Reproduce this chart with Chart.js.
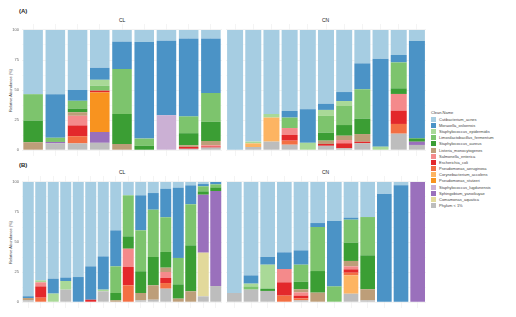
<!DOCTYPE html>
<html><head><meta charset="utf-8">
<script src="https://cdn.jsdelivr.net/npm/chart.js"></script>
<style>
body{margin:0;width:516px;height:317px;background:#fff;position:relative;overflow:hidden;font-family:"Liberation Sans",Arial,sans-serif}
.box{position:absolute}
.lbl{position:absolute;color:#222;white-space:nowrap}
.ytitle{position:absolute;transform:rotate(-90deg);transform-origin:center;font-size:4px;color:#444;white-space:nowrap;width:80px;text-align:center}
#legend{position:absolute;left:431px;top:110px;font-size:4px;color:#444}
#legend .row{display:flex;align-items:center;height:6.2px}
#legend .sw{width:5px;height:5px;margin-right:3px}
</style></head><body>
<div class="lbl" style="left:19px;top:8px;font-size:6px;font-weight:bold">(A)</div>
<div class="lbl" style="left:119px;top:17px;font-size:5px">CL</div>
<div class="lbl" style="left:322px;top:17px;font-size:5px">CN</div>
<div class="lbl" style="left:19px;top:162px;font-size:6px;font-weight:bold">(B)</div>
<div class="lbl" style="left:119px;top:169px;font-size:5px">CL</div>
<div class="lbl" style="left:322px;top:169px;font-size:5px">CN</div>
<div class="ytitle" style="left:-30px;top:88px">Relative Abundance (%)</div>
<div class="ytitle" style="left:-30px;top:240px">Relative Abundance (%)</div>
<div class="box" style="left:0;top:24px"><canvas id="aCL" width="222" height="132"></canvas></div>
<div class="box" style="left:226px;top:24px"><canvas id="aCN" width="200" height="132"></canvas></div>
<div class="box" style="left:0;top:176px"><canvas id="bCL" width="222" height="132"></canvas></div>
<div class="box" style="left:226px;top:176px"><canvas id="bCN" width="200" height="132"></canvas></div>
<div id="legend"></div>
<script>
// species in legend order (top of the stack first)
const species=['Cutibacterium_acnes','Moraxella_osloensis','Staphylococcus_epidermidis','Limosilactobacillus_fermentum','Staphylococcus_aureus','Listeria_monocytogenes','Salmonella_enterica','Escherichia_coli','Pseudomonas_aeruginosa','Corynebacterium_accolens','Pseudomonas_stutzeri','Staphylococcus_lugdunensis','Sphingobium_yanoikuyae','Comamonas_aquatica','Phylum < 1%'];
const colors=['#a6cde2','#4b93c6','#a9d997','#7dc46d','#3b9e34','#bd9e79','#f48a8b','#e3282b','#f36f43','#fdb462','#f8931f','#cbb0d4','#9a70bc','#e2d99b','#bdbdbd'];
const yTicks=[0,25,50,75,100];

// rows = species (same order), columns = samples
const aCL=[
[53.5,53.5,50,31.5,9.7,10,9,7,7],
[0,36.3,9,10,22.8,80.5,62,65,45.5],
[0,0,0,5,0,0,0,0,0],
[22,3.5,6.5,4,37.5,6,0,14,24],
[18,0,3,0,25,3.5,0,10,16],
[6.5,0,3,0,5,0,0,1.5,3.5],
[0,0,8,0,0,0,0,0,1],
[0,0,9,1.5,0,0,0,1.5,1],
[0,0,6,0,0,0,0,0,0],
[0,0,0,0,0,0,0,0,0],
[0,0,0,33,0,0,0,0,0],
[0,0,0,0,0,0,29,0,0],
[0,1.2,0,9,0,0,0,0,0],
[0,0,0,0,0,0,0,0,0],
[0,5.5,5.5,6,0,0,0,1,2]];
const aCN=[
[100,93,70,67.5,66,61.6,51.7,27.8,23.9,20.8,9.2],
[0,0,0,5.5,28,5,7.5,21.6,73.3,6.2,81.1],
[0,1.5,3,0,6,5,4.1,0,2.8,0,0],
[0,0,0,8.7,0,14,15.9,24.5,0,21.6,0],
[0,0,0,0,0,6.6,8.9,12.8,0,4.7,2.8],
[0,0,0,0,0,2.8,3.6,6.4,0,0,0],
[0,0,0,5.8,0,0,2.7,0,0,13.9,0],
[0,0,0,4.7,0,1.5,4.2,1.3,0,11.1,0],
[0,0,0,3.4,0,0,0,0,0,8.1,0],
[0,3,20,0,0,0,0,0,0,0,0],
[0,0,0,0,0,0,0,0,0,0,0],
[0,0,0,0,0,0,0,0,0,0,0],
[0,0,0,0,0,0,0,0,0,0,2.7],
[0,0,0,0,0,0,0,0,0,0,0],
[0,2.5,7,4.4,0,3.5,1.4,5.6,0,13.6,4.2]];
const bCL=[
[95.2,82,80.5,79.7,79.2,70.3,62,40.3,11.1,11.1,9.2,5.6,4.7,2.8,1.7,0],
[1.5,0,12.5,2.8,20.8,27.8,27.7,30,0,29.2,13.9,23.8,58.6,15.8,1.9,2],
[0,1.6,7,7.2,0,0,1.4,0,0,0,0,0,0,0,0,0],
[0,0,0,0,0,0,0,22.2,34.2,34.1,39.4,28.9,22,34.2,4.2,2.5],
[0,0,0,0,0,0,0,6.1,10.3,18.1,23.6,13.1,11.9,38.3,2.8,3],
[1.8,0,0,0,0,0,0,1.4,0,6.1,12,3.6,2.8,8.9,0,0],
[0,3.4,0,0,0,0,0,0,15.2,0,0,5,0,0,0,0],
[0,9.4,0,0,0,1.9,0,0,15.3,0,0,4.2,0,0,0,0],
[0,3.6,0,0,0,0,0,0,13.9,0,0,4.7,0,0,0,0],
[0,0,0,0,0,0,0,0,0,0,0,0,0,0,0,0],
[0,0,0,0,0,0,0,0,0,0,0,0,0,0,0,0],
[0,0,0,0,0,0,0,0,0,0,0,0,0,0,0,0],
[0,0,0,0,0,0,0,0,0,0,0,0,0,0,48.3,79.2],
[0,0,0,0,0,0,0,0,0,0,0,0,0,0,36.4,0],
[1.5,0,0,10.3,0,0,8.9,0,0,1.4,1.9,11.1,0,0,4.7,13.3]];
const bCN=[
[92.5,77.8,62.5,58.6,57,34.2,32.5,29.7,29.2,9.7,2.8,0],
[0,6.9,6.4,13.9,11.9,3.3,54.5,1.7,0,90.3,97.2,0],
[0,2.3,20,0,0,0,0,0,0,0,0,0],
[0,2.7,0,0,14.2,36.7,13,19.2,31.9,0,0,0],
[0,0,1.9,0,6.3,18,0,15.2,28.3,0,0,0],
[0,0,0,0,2.6,7.8,0,4.5,9.2,0,0,0],
[0,0,0,11.1,2.7,0,0,2.5,0,0,0,0],
[0,0,0,11.1,2.3,0,0,2.8,0,0,0,0],
[0,0,0,5.3,1.6,0,0,2.2,0,0,0,0],
[0,0,0,0,0,0,0,15.3,0,0,0,0],
[0,0,0,0,0,0,0,0,0,0,0,0],
[0,0,0,0,0,0,0,0,0,0,0,0],
[0,0,0,0,0,0,0,0,0,0,0,100],
[0,0,0,0,0,0,0,0,0,0,0,0],
[7.5,10.3,9.2,0,1.4,0,0,6.9,1.4,0,0,0]];

// y tick labels drawn from the scale, outside the plot area
const yLabels={id:'yLabels',afterDraw(c,a,o){
 if(!o.show)return;
 let y=c.scales.y,ctx=c.ctx;
 ctx.save();ctx.fillStyle='#666';ctx.font='4px "Liberation Sans"';ctx.textAlign='right';ctx.textBaseline='middle';
 yTicks.forEach(v=>ctx.fillText(v,c.chartArea.left-3,y.getPixelForValue(v)));
 ctx.restore();
}};

function draw(id,rows,showY){
 let n=rows[0].length,labels=[];
 for(let i=1;i<=n;i++)labels.push('S'+i);
 let ds=[];
 // first dataset sits at the bottom, so go from the last species up
 for(let s=species.length-1;s>=0;s--)
  ds.push({label:species[s],data:rows[s],backgroundColor:colors[s],borderWidth:0,barPercentage:0.88,categoryPercentage:1});
 new Chart(document.getElementById(id),{type:'bar',data:{labels:labels,datasets:ds},plugins:[yLabels],
 options:{responsive:false,animation:false,layout:{padding:{left:showY?22:0}},
  plugins:{legend:{display:false},tooltip:{enabled:false},yLabels:{show:showY}},
  scales:{
   x:{stacked:true,offset:true,border:{display:false},ticks:{display:false},
      grid:{offset:false,color:'#ececec',lineWidth:0.6,drawTicks:false},afterFit:s=>{s.height=0}},
   y:{stacked:true,min:-5,max:105,border:{display:false},
      afterBuildTicks:s=>{let t=[];for(let v=0;v<=100;v+=12.5)t.push({value:v});s.ticks=t},
      ticks:{display:false},
      grid:{drawTicks:false,color:c=>yTicks.includes(c.tick.value)?'#ebebeb':'#f5f5f5',lineWidth:0.6},
      afterFit:s=>{s.width=0}}
  }}});
}
draw('aCL',aCL,true);draw('aCN',aCN,false);
draw('bCL',bCL,true);draw('bCN',bCN,false);

let lg=document.getElementById('legend');
lg.innerHTML='<div style="height:6px;color:#444">Clean.Name</div>'+species.map((s,i)=>`<div class="row"><div class="sw" style="background:${colors[i]}"></div>${s}</div>`).join('');
</script>
</body></html>
